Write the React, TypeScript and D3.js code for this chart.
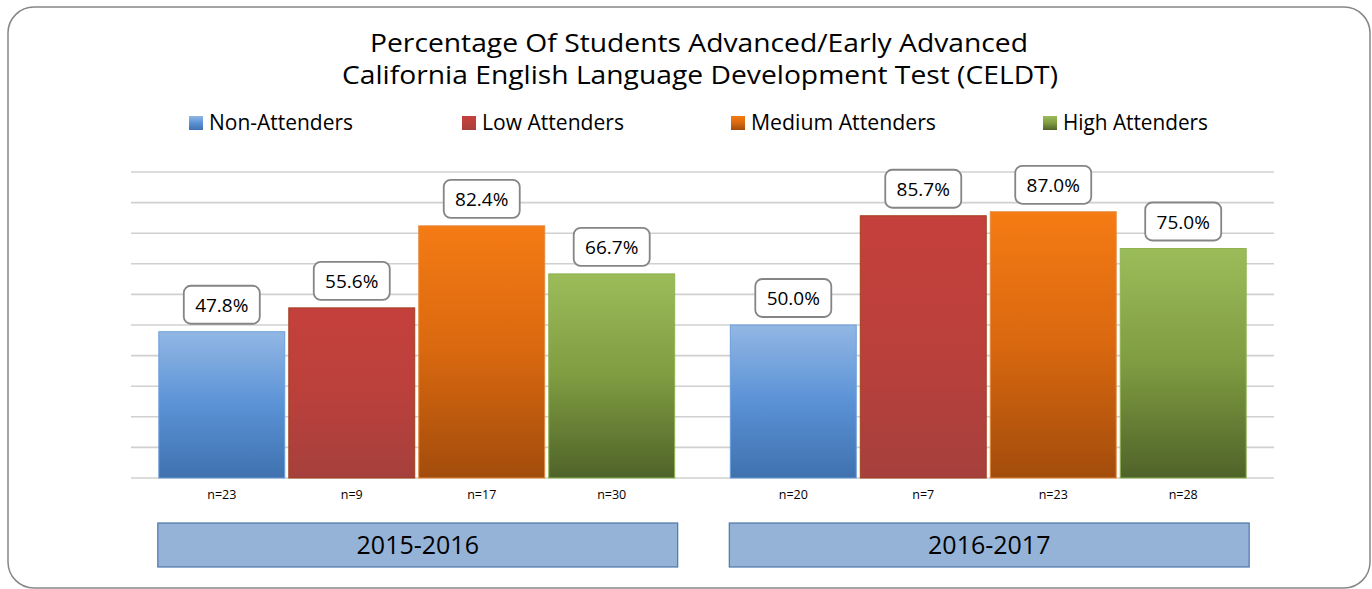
import React from "react";
import * as d3 from "d3";

const years = ["2015-2016", "2016-2017"];
const series = ["Non-Attenders", "Low Attenders", "Medium Attenders", "High Attenders"];
const values2015 = [47.8, 55.6, 82.4, 66.7];
const values2016 = [50.0, 85.7, 87.0, 75.0];
const counts2015 = ["n=23", "n=9", "n=17", "n=30"];
const counts2016 = ["n=20", "n=7", "n=23", "n=28"];
const titleLines = [
  "Percentage Of Students Advanced/Early Advanced",
  "California English Language Development Test (CELDT)",
];

const W = 1372;
const H = 589;
const FONT = "'Open Sans', 'Noto Sans', sans-serif";

const grads = [
  { id: "g0", stops: ["#92b7e4", "#5a92d6", "#3f71ae"], stroke: "#6d9edb" },
  { id: "g1", stops: ["#c5403c", "#bb403c", "#a6403c"], stroke: "#a0401e" },
  { id: "g2", stops: ["#f57b14", "#d9680f", "#a24c0c"], stroke: "#e38a3c" },
  { id: "g3", stops: ["#9cbc5a", "#7f9c41", "#4f6329"], stroke: "#8fb252" },
];

const legendPos = [189, 462, 731, 1043];
const legendLen = [144, 142, 185, 145];

export default function App() {
  const plotLeft = 131;
  const plotRight = 1274;
  const y = d3.scaleLinear().domain([0, 100]).range([478, 172]);
  const x0 = d3.scaleBand<string>().domain(years).range([plotLeft, plotRight]);
  const x1 = d3
    .scaleBand<string>()
    .domain(series)
    .range([0, x0.bandwidth()])
    .paddingInner(0.031)
    .paddingOuter(0.214);
  const ticks = d3.range(0, 101, 10);
  const data = [
    { year: years[0], vals: values2015, counts: counts2015 },
    { year: years[1], vals: values2016, counts: counts2016 },
  ];
  const boxW = 76;
  const boxH = 38;

  return (
    <svg
      width={W}
      height={H}
      style={{ position: "absolute", left: 0, top: 0, background: "#fff" }}
      fontFamily={FONT}
    >
      <defs>
        {grads.map((g) => (
          <linearGradient key={g.id} id={g.id} x1="0" y1="0" x2="0" y2="1">
            <stop offset="0%" stopColor={g.stops[0]} />
            <stop offset="50%" stopColor={g.stops[1]} />
            <stop offset="100%" stopColor={g.stops[2]} />
          </linearGradient>
        ))}
      </defs>
      <rect x={8} y={7} width={1362} height={581} rx={26} ry={26} fill="#fff" stroke="#868686" strokeWidth={1.5} />

      {titleLines.map((t, i) => (
        <text
          key={i}
          x={i === 0 ? 370 : 342}
          y={52 + i * 32}
          fontSize={25}
          fill="#000"
          textLength={i === 0 ? 658 : 716}
          lengthAdjust="spacingAndGlyphs"
        >
          {t}
        </text>
      ))}

      {series.map((s, i) => (
        <g key={s}>
          <rect x={legendPos[i]} y={116} width={14} height={14} fill={`url(#${grads[i].id})`} />
          <text
            x={legendPos[i] + 20}
            y={130}
            fontSize={21}
            fill="#000"
            textLength={legendLen[i]}
            lengthAdjust="spacingAndGlyphs"
          >
            {s}
          </text>
        </g>
      ))}

      {ticks.map((t) => (
        <line key={t} x1={plotLeft} x2={plotRight} y1={y(t)} y2={y(t)} stroke="#d0d0d0" strokeWidth={1.6} />
      ))}

      {data.map((d) => (
        <g key={d.year} transform={`translate(${x0(d.year)},0)`}>
          {series.map((s, i) => {
            const bx = x1(s) as number;
            const bw = x1.bandwidth();
            const top = y(d.vals[i]);
            const cx = bx + bw / 2;
            return (
              <g key={s}>
                <rect
                  x={bx}
                  y={top}
                  width={bw}
                  height={y(0) - top}
                  fill={`url(#${grads[i].id})`}
                  stroke={grads[i].stroke}
                  strokeWidth={1}
                />
                <rect
                  x={cx - boxW / 2}
                  y={top - 8 - boxH}
                  width={boxW}
                  height={boxH}
                  rx={7}
                  ry={7}
                  fill="#fff"
                  stroke="#858585"
                  strokeWidth={1.8}
                />
                <text x={cx} y={top - 8 - boxH / 2 + 7} textAnchor="middle" fontSize={19} fill="#000">
                  {d.vals[i].toFixed(1) + "%"}
                </text>
                <text x={cx} y={499} textAnchor="middle" fontSize={12.5} fill="#000">
                  {d.counts[i]}
                </text>
              </g>
            );
          })}
          <rect
            x={(x1(series[0]) as number) - 1}
            y={523}
            width={(x1(series[3]) as number) + x1.bandwidth() - (x1(series[0]) as number) + 4}
            height={44}
            fill="#95b3d7"
            stroke="#4f76a8"
            strokeWidth={1.2}
          />
          <text
            x={((x1(series[0]) as number) + (x1(series[3]) as number) + x1.bandwidth()) / 2 + 1}
            y={554}
            textAnchor="middle"
            fontSize={25}
            fill="#000"
          >
            {d.year}
          </text>
        </g>
      ))}
    </svg>
  );
}
